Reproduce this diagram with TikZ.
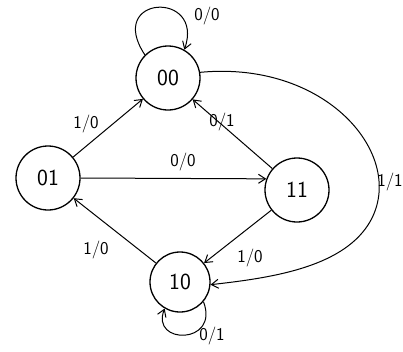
\documentclass[tikz,border=0pt]{standalone}
\usepackage{fontspec}
\usetikzlibrary{arrows.meta}
\begin{document}
\begin{tikzpicture}[x=1pt,y=-1pt,
  state/.style={draw,circle,line width=1.3pt,minimum size=64pt,inner sep=0pt,font=\sffamily\fontsize{23}{25}\selectfont},
  edge/.style={line width=1pt,-{Straight Barb[length=7pt,width=9pt]}},
  lab/.style={font=\sffamily\fontsize{18}{20}\selectfont,inner sep=1pt}]
\useasboundingbox (0,0) rectangle (403,351);
\node[state] (s00) at (168,78) {00};
\node[state] (s01) at (48,178) {01};
\node[state] (s11) at (297,190) {11};
\node[state,minimum size=60pt] (s10) at (180,282) {10};
% self loops
\draw[edge] (s00.135) .. controls (105,-5) and (205,-10) .. (s00.60);
\node[lab] (l00) at (207,16) {0/0};
\draw[edge] (s10.-40) .. controls (220,345) and (150,345) .. (s10.-120);
\node[lab] (l10) at (212,336) {0/1};
% edges
\draw[edge] (s01) -- (s00);
\node[lab] (a) at (86,124) {1/0};
\draw[edge] (s01.0) -- (s11.160);
\node[lab] (b) at (183,162) {0/0};
\draw[edge] (s11) -- (s00);
\node[lab] (c) at (222,122) {0/1};
\draw[edge] (s00.10) .. controls (330,60) and (410,160) .. (368,225) .. controls (340,268) and (270,278) .. (s10.-5);
\node[lab] (d) at (390,182) {1/1};
\draw[edge] (s11) -- (s10);
\node[lab] (e) at (250,258) {1/0};
\draw[edge] (s10) -- (s01);
\node[lab] (f) at (96,250) {1/0};
\end{tikzpicture}
\end{document}
